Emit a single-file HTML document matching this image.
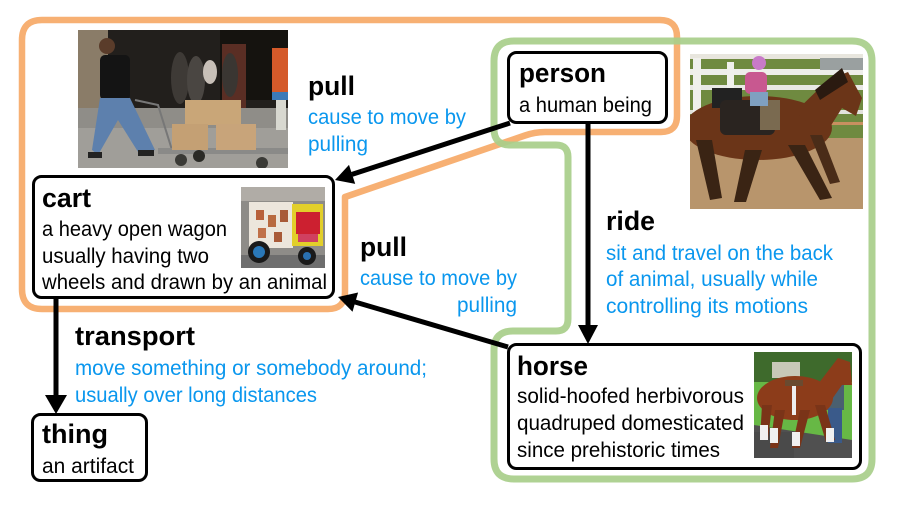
<!DOCTYPE html>
<html>
<head>
<meta charset="utf-8">
<style>
  html,body{margin:0;padding:0;background:#fff;}
  svg{display:block;}
  .t{font-family:"Liberation Sans",sans-serif;font-weight:bold;font-size:27px;fill:#000;}
  .b{font-family:"Liberation Sans",sans-serif;font-size:21px;fill:#000;}
  .l{font-family:"Liberation Sans",sans-serif;font-size:21px;fill:#0a97ee;}
</style>
</head>
<body>
<svg width="906" height="507" viewBox="0 0 906 507" xmlns="http://www.w3.org/2000/svg">
  <rect width="906" height="507" fill="#fff"/>

  <!-- orange group border -->
  <path d="M22,40 Q22,20 42,20 L660,20 Q677,20 677,37 L677,116 Q677,132 661,132 L545,132 Q535,132 525,135.5 L345,197 L345,292 Q345,309 328,309 L42,309 Q22,309 22,289 Z"
        fill="none" stroke="#F7B073" stroke-width="6.5" stroke-linejoin="round"/>
  <!-- green group border -->
  <path d="M494,61 Q494,41 514,41 L852,41 Q872,41 872,61 L872,459 Q872,479 852,479 L514,479 Q494,479 494,459 L494,350 Q494,331 513,331 L556,331 Q568,331 568,319 L568,157 Q568,145 556,145 L510,145 Q494,145 494,129 Z"
        fill="none" stroke="#A8CE8A" stroke-width="7" stroke-linejoin="round" opacity="0.92"/>

  <!-- arrows -->
  <line x1="510" y1="123" x2="352" y2="174.4" stroke="#000" stroke-width="5"/>
  <polygon points="335,180 355.2,183.9 349,164.9" fill="#000"/>

  <line x1="508" y1="347" x2="355" y2="302" stroke="#000" stroke-width="5"/>
  <polygon points="338,297 358.1,292.5 352.5,311.7" fill="#000"/>

  <line x1="588" y1="123" x2="588" y2="326" stroke="#000" stroke-width="5"/>
  <polygon points="578,325 598,325 588,344" fill="#000"/>

  <line x1="56" y1="298" x2="56" y2="396" stroke="#000" stroke-width="5"/>
  <polygon points="45,395 67,395 56,414" fill="#000"/>

  <!-- boxes -->
  <rect x="33.5" y="176.5" width="300" height="121" rx="8" fill="#fff" stroke="#000" stroke-width="3"/>
  <rect x="508.5" y="52.5" width="158" height="70" rx="8" fill="#fff" stroke="#000" stroke-width="3"/>
  <rect x="508.5" y="344.5" width="352" height="124" rx="8" fill="#fff" stroke="#000" stroke-width="3"/>
  <rect x="32.5" y="414.5" width="114" height="66" rx="8" fill="#fff" stroke="#000" stroke-width="3"/>

  <!-- man pulling cart photo -->
  <g>
    <clipPath id="c1"><rect x="78" y="30" width="210" height="138"/></clipPath>
    <g clip-path="url(#c1)">
      <rect x="78" y="30" width="210" height="138" fill="#221f1c"/>
      <rect x="78" y="30" width="30" height="78" fill="#8a7c68"/>
      <rect x="220" y="30" width="68" height="70" fill="#15130f"/>
      <rect x="222" y="44" width="24" height="65" fill="#5a2e24"/>
      <ellipse cx="180" cy="78" rx="9" ry="26" fill="#3e3a36"/>
      <ellipse cx="196" cy="80" rx="9" ry="24" fill="#4a4642"/>
      <ellipse cx="210" cy="72" rx="7" ry="12" fill="#c8c0b8"/>
      <ellipse cx="230" cy="75" rx="8" ry="22" fill="#3a3632"/>
      <rect x="78" y="108" width="210" height="60" fill="#8f8d88"/>
      <rect x="78" y="128" width="210" height="40" fill="#a09e99"/>
      <rect x="272" y="48" width="16" height="44" fill="#d45a2a"/>
      <rect x="272" y="92" width="16" height="8" fill="#3c7ab8"/>
      <rect x="276" y="100" width="10" height="30" fill="#d8d8d0"/>
      <!-- man -->
      <circle cx="107" cy="46" r="8" fill="#5a3c2a"/>
      <rect x="100" y="55" width="30" height="45" rx="5" fill="#141414"/>
      <polygon points="100,98 130,98 155,150 140,155 118,120 98,155 92,150" fill="#5d80ad"/>
      <rect x="88" y="152" width="14" height="6" fill="#222"/>
      <rect x="138" y="150" width="16" height="6" fill="#222"/>
      <!-- cart -->
      <polyline points="135,100 158,105 172,150" fill="none" stroke="#777" stroke-width="2"/>
      <rect x="158" y="148" width="130" height="6" fill="#8a8a88"/>
      <circle cx="181" cy="160" r="6" fill="#3a3a36"/>
      <circle cx="199" cy="156" r="6" fill="#2a2a26"/>
      <circle cx="262" cy="163" r="6" fill="#3a3a36"/>
      <!-- boxes -->
      <rect x="185" y="100" width="56" height="25" fill="#c9a678"/>
      <rect x="172" y="124" width="36" height="26" fill="#c4a074"/>
      <rect x="216" y="124" width="40" height="26" fill="#c8a47a"/>
    </g>
  </g>

  <!-- girl riding horse photo -->
  <g>
    <clipPath id="c2"><rect x="690" y="54" width="173" height="155"/></clipPath>
    <g clip-path="url(#c2)">
      <rect x="690" y="54" width="173" height="155" fill="#b8956c"/>
      <rect x="690" y="54" width="173" height="85" fill="#6f8a40"/>
      <rect x="690" y="54" width="173" height="5" fill="#e8e6de"/>
      <rect x="690" y="69" width="173" height="6" fill="#eeeeea"/>
      <rect x="690" y="85" width="173" height="5" fill="#e8e8e4"/>
      <rect x="690" y="110" width="173" height="4" fill="#e2e2dc"/>
      <rect x="690" y="122" width="173" height="3" fill="#c89060"/>
      <rect x="693" y="58" width="8" height="60" fill="#f0f0ec"/>
      <rect x="727" y="62" width="7" height="40" fill="#f0f0ec"/>
      <rect x="820" y="58" width="43" height="12" fill="#9aa0a0"/>
      <rect x="690" y="138" width="173" height="71" fill="#b8956c"/>
      <!-- horse body -->
      <ellipse cx="758" cy="128" rx="74" ry="32" fill="#6b3518"/>
      <polygon points="795,112 828,80 848,72 862,98 856,116 842,108 825,135" fill="#6b3518"/>
      <polygon points="815,90 842,68 848,82 820,100" fill="#2a1a10"/>
      <polygon points="696,140 712,140 722,198 710,200" fill="#3a2414"/>
      <polygon points="745,150 762,150 746,202 734,202" fill="#3a2414"/>
      <polygon points="788,145 805,145 832,198 820,200" fill="#3a2414"/>
      <polygon points="810,135 822,135 840,182 830,184" fill="#4a2c18"/>
      <!-- saddle & girl -->
      <rect x="712" y="88" width="30" height="20" fill="#222"/>
      <rect x="720" y="100" width="55" height="35" rx="6" fill="#2a2420"/>
      <rect x="760" y="100" width="20" height="30" fill="#7a6a50"/>
      <rect x="745" y="72" width="22" height="22" rx="5" fill="#c85890"/>
      <circle cx="759" cy="63" r="7" fill="#c87ac8"/>
      <rect x="750" y="92" width="18" height="14" fill="#7fa0c0"/>
    </g>
  </g>

  <!-- cart photo -->
  <g>
    <clipPath id="c3"><rect x="241" y="187" width="84" height="81"/></clipPath>
    <g clip-path="url(#c3)">
      <rect x="241" y="187" width="84" height="81" fill="#8e8c88"/>
      <rect x="241" y="187" width="84" height="14" fill="#b0aca6"/>
      <rect x="241" y="255" width="84" height="13" fill="#6e6e6e"/>
      <rect x="249" y="202" width="44" height="46" fill="#ece6dc"/>
      <rect x="256" y="210" width="8" height="10" fill="#b8603a"/>
      <rect x="268" y="215" width="8" height="12" fill="#b86a40"/>
      <rect x="280" y="210" width="8" height="12" fill="#a85a38"/>
      <rect x="258" y="228" width="8" height="10" fill="#c07048"/>
      <rect x="274" y="232" width="8" height="10" fill="#a85a38"/>
      <rect x="292" y="204" width="31" height="42" fill="#e2cf2a"/>
      <rect x="296" y="212" width="24" height="22" fill="#cc2030"/>
      <rect x="298" y="234" width="20" height="8" fill="#d04060"/>
      <circle cx="259" cy="252" r="11" fill="#1a1a1a"/>
      <circle cx="259" cy="252" r="6" fill="#2a78b8"/>
      <circle cx="307" cy="256" r="9" fill="#1a1a1a"/>
      <circle cx="307" cy="256" r="4" fill="#2a70b0"/>
    </g>
  </g>

  <!-- horse photo -->
  <g>
    <clipPath id="c4"><rect x="754" y="352" width="98" height="106"/></clipPath>
    <g clip-path="url(#c4)">
      <rect x="754" y="352" width="98" height="106" fill="#67b845"/>
      <rect x="754" y="352" width="98" height="30" fill="#3e6a2c"/>
      <rect x="772" y="362" width="28" height="16" fill="#c8c8b8"/>
      <polygon points="754,425 852,440 852,458 754,458" fill="#505050"/>
      <rect x="754" y="432" width="40" height="26" fill="#4a4a4a"/>
      <!-- man -->
      <rect x="826" y="385" width="18" height="25" fill="#4a6070"/>
      <rect x="828" y="408" width="14" height="35" fill="#3a5a8a"/>
      <!-- horse -->
      <ellipse cx="795" cy="398" rx="38" ry="22" fill="#8c3c1a"/>
      <polygon points="812,392 838,358 850,362 852,385 842,385 830,402" fill="#8c3c1a"/>
      <polygon points="762,405 772,405 768,440 760,440" fill="#7a3418"/>
      <polygon points="775,410 785,410 778,448 770,448" fill="#7a3418"/>
      <polygon points="800,410 810,410 800,448 792,448" fill="#7a3418"/>
      <polygon points="815,405 825,405 835,440 826,442" fill="#7a3418"/>
      <rect x="760" y="425" width="8" height="15" fill="#f0f0f0"/>
      <rect x="770" y="428" width="8" height="15" fill="#f0f0f0"/>
      <rect x="792" y="432" width="8" height="14" fill="#f0f0f0"/>
      <rect x="826" y="428" width="8" height="14" fill="#f0f0f0"/>
      <rect x="792" y="385" width="4" height="30" fill="#eeeeee"/>
      <rect x="785" y="380" width="18" height="6" fill="#6a4a30"/>
    </g>
  </g>

  <!-- text: cart -->
  <text class="t" x="42" y="207" textLength="49" lengthAdjust="spacingAndGlyphs">cart</text>
  <text class="b" x="42" y="236" textLength="185" lengthAdjust="spacingAndGlyphs">a heavy open wagon</text>
  <text class="b" x="42" y="263" textLength="167" lengthAdjust="spacingAndGlyphs">usually having two</text>
  <text class="b" x="42" y="289" textLength="285" lengthAdjust="spacingAndGlyphs">wheels and drawn by an animal</text>

  <!-- person -->
  <text class="t" x="519" y="82" textLength="87" lengthAdjust="spacingAndGlyphs">person</text>
  <text class="b" x="519" y="112" textLength="133" lengthAdjust="spacingAndGlyphs">a human being</text>

  <!-- pull 1 -->
  <text class="t" x="308" y="95" textLength="47" lengthAdjust="spacingAndGlyphs">pull</text>
  <text class="l" x="308" y="124" textLength="158" lengthAdjust="spacingAndGlyphs">cause to move by</text>
  <text class="l" x="308" y="151" textLength="60" lengthAdjust="spacingAndGlyphs">pulling</text>

  <!-- pull 2 -->
  <text class="t" x="360" y="256" textLength="47" lengthAdjust="spacingAndGlyphs">pull</text>
  <text class="l" x="360" y="285" textLength="157" lengthAdjust="spacingAndGlyphs">cause to move by</text>
  <text class="l" x="457" y="312" textLength="60" lengthAdjust="spacingAndGlyphs">pulling</text>

  <!-- ride -->
  <text class="t" x="606" y="230" textLength="49" lengthAdjust="spacingAndGlyphs">ride</text>
  <text class="l" x="606" y="260" textLength="227" lengthAdjust="spacingAndGlyphs">sit and travel on the back</text>
  <text class="l" x="606" y="286" textLength="212" lengthAdjust="spacingAndGlyphs">of animal, usually while</text>
  <text class="l" x="606" y="313" textLength="202" lengthAdjust="spacingAndGlyphs">controlling its motions</text>

  <!-- horse -->
  <text class="t" x="517" y="375" textLength="71" lengthAdjust="spacingAndGlyphs">horse</text>
  <text class="b" x="517" y="403" textLength="227" lengthAdjust="spacingAndGlyphs">solid-hoofed herbivorous</text>
  <text class="b" x="517" y="430" textLength="227" lengthAdjust="spacingAndGlyphs">quadruped domesticated</text>
  <text class="b" x="517" y="457" textLength="203" lengthAdjust="spacingAndGlyphs">since prehistoric times</text>

  <!-- transport -->
  <text class="t" x="75" y="345" textLength="120" lengthAdjust="spacingAndGlyphs">transport</text>
  <text class="l" x="75" y="375" textLength="352" lengthAdjust="spacingAndGlyphs">move something or somebody around;</text>
  <text class="l" x="75" y="402" textLength="242" lengthAdjust="spacingAndGlyphs">usually over long distances</text>

  <!-- thing -->
  <text class="t" x="42" y="443" textLength="66" lengthAdjust="spacingAndGlyphs">thing</text>
  <text class="b" x="42" y="473" textLength="92" lengthAdjust="spacingAndGlyphs">an artifact</text>
</svg>
</body>
</html>
